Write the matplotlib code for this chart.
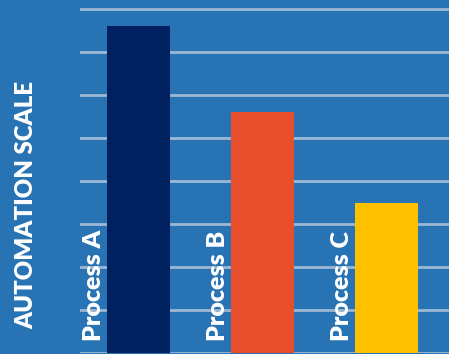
import matplotlib
matplotlib.use("Agg")
import matplotlib.pyplot as plt

categories = ["Process A", "Process B", "Process C"]
values = [7.6, 5.6, 3.5]
colors = ["#00205F", "#E84E2C", "#FFC000"]
y_label = "AUTOMATION SCALE"

W, H = 449, 354
fig = plt.figure(figsize=(W / 100, H / 100), dpi=100)
bg = "#2873B3"
fig.patch.set_facecolor(bg)

ax = fig.add_axes([80 / W, 1 - 353 / H, 1 - 80 / W, 353 / H])
ax.set_facecolor(bg)
x = list(range(len(categories)))
ax.set_ylim(0, 353 / 43)
ax.set_xlim((80 - 138.5) / 124, (449 - 138.5) / 124)
for yv in range(0, 9):
    ax.axhline(yv, color="#9DB8D4", lw=2, zorder=1)
ax.bar(x, values, width=0.51, color=colors, zorder=3)
for xi, lab in zip(x, categories):
    ax.text(xi - 0.355, 0.27, lab, rotation=90, ha="center", va="bottom",
            color="white", fontsize=18, fontweight="heavy", family="Lato", zorder=4)
for s in ax.spines.values():
    s.set_visible(False)
ax.set_xticks([])
ax.set_yticks([])

fig.text(26 / W, 1 - 205 / H, y_label, rotation=90, ha="center", va="center",
         color="white", fontsize=17.3, fontweight="heavy", family="Lato")

fig.savefig("out.png", dpi=100, facecolor=bg)
